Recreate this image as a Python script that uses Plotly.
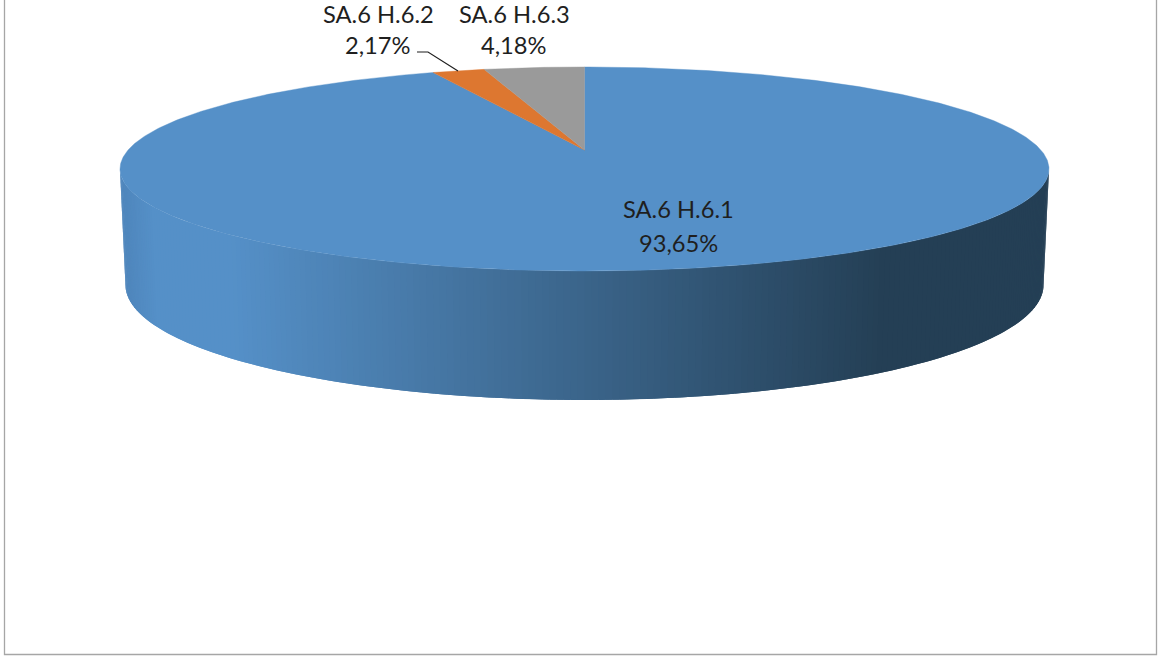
import math
import plotly.graph_objects as go

# Data
categories = ["SA.6 H.6.1", "SA.6 H.6.2", "SA.6 H.6.3"]
shares = [93.65, 2.17, 4.18]
slice_colors = ["#5590C8", "#DD7730", "#9A9A9A"]

# Pie geometry in page pixels (perspective projection of a disc)
PERSP = 0.186
CX = 584.5
TOP = dict(a=456.4, b=98.5, y0=150.0)
BOT = dict(a=451.0, b=111.0, y0=263.6)
WALL_EDGE = (78, 133, 187)
WALL_LIGHT = (85, 144, 200)
WALL_DARK = (36, 63, 85)
EDGE_START, EDGE_END = 122.0, 155.0
GRAD_START, GRAD_END = 230.0, 880.0
TEXT = "#1F1F1F"
FONT = "Lato, Carlito, Calibri, sans-serif"
FSIZE = 23.7


def project(theta_deg, disc):
    t = math.radians(theta_deg)
    u, v = math.sin(t), math.cos(t)
    d = 1 + PERSP * v
    return CX + disc["a"] * u / d, disc["y0"] - disc["b"] * v / d


def wall_color(x):
    if x < EDGE_END:
        f = max(0.0, (x - EDGE_START) / (EDGE_END - EDGE_START))
        c = [round(a + (b - a) * f) for a, b in zip(WALL_EDGE, WALL_LIGHT)]
    else:
        f = min(1.0, max(0.0, (x - GRAD_START) / (GRAD_END - GRAD_START)))
        c = [round(a + (b - a) * f) for a, b in zip(WALL_LIGHT, WALL_DARK)]
    return f"rgb({c[0]},{c[1]},{c[2]})"


fig = go.Figure()

# Side wall: overlapping gradient bands painted from the right edge to the left
N = 220
lo = math.degrees(math.acos(-PERSP))
hi = 360.0 - lo
for i in range(N):
    t0 = lo + (hi - lo) * i / N
    t1 = lo + (hi - lo) * min(N, i + 2) / N
    mid = (t0 + t1) / 2
    a = project(t0, TOP)
    b = project(t1, TOP)
    c = project(t1, BOT)
    d = project(t0, BOT)
    col = wall_color((project(mid, TOP)[0] + project(mid, BOT)[0]) / 2)
    fig.add_trace(go.Scatter(
        x=[a[0], b[0], c[0], d[0], a[0]],
        y=[a[1], b[1], c[1], d[1], a[1]],
        mode="lines", fill="toself", fillcolor=col,
        line=dict(width=0),
        hoverinfo="skip", showlegend=False,
    ))

# Top slices, clockwise from twelve o'clock
total = sum(shares)
start = 0.0
centre = (CX, TOP["y0"])
for name, val, col in zip(categories, shares, slice_colors):
    span = 360.0 * val / total
    n = max(8, int(span * 2))
    pts = [project(start + span * k / n, TOP) for k in range(n + 1)]
    xs = [centre[0]] + [p[0] for p in pts] + [centre[0]]
    ys = [centre[1]] + [p[1] for p in pts] + [centre[1]]
    fig.add_trace(go.Scatter(
        x=xs, y=ys, mode="lines", fill="toself", fillcolor=col,
        line=dict(color=col, width=0.4),
        name=name, text=f"{name}: {val:.2f}%",
        hoverinfo="text", showlegend=False,
    ))
    start += span

# Labels: (x, y of name line, y of percent line)
label_pos = [(678, 209, 243), (378, 14, 45), (514, 14, 45)]
annotations = []
for name, val, (lx, ly1, ly2) in zip(categories, shares, label_pos):
    pct = f"{val:.2f}%".replace(".", ",")
    for txt, ly in ((name, ly1), (pct, ly2)):
        annotations.append(dict(
            x=lx, y=ly, xref="x", yref="y", showarrow=False,
            text=txt, align="center",
            font=dict(family=FONT, size=FSIZE, color=TEXT),
            xanchor="center", yanchor="middle",
        ))

shapes = [
    dict(type="rect", xref="x", yref="y", x0=4.5, y0=-2, x1=1156.5, y1=654.5,
         line=dict(color="#A6A6A6", width=1.3), fillcolor="rgba(0,0,0,0)", layer="below"),
    dict(type="path", xref="x", yref="y", path="M 417 52 L 428 52 L 458 71",
         line=dict(color="#1F1F1F", width=1.2), layer="above"),
]

fig.update_layout(
    width=1159, height=656, autosize=False,
    margin=dict(l=0, r=0, t=0, b=0),
    paper_bgcolor="white", plot_bgcolor="white",
    showlegend=False,
    xaxis=dict(range=[0, 1159], visible=False, fixedrange=True),
    yaxis=dict(range=[656, 0], visible=False, fixedrange=True),
    annotations=annotations, shapes=shapes,
)

fig.write_html(
    "out.html",
    config=dict(displayModeBar=False),
    post_script="document.body.style.margin='0';document.body.style.overflow='hidden';",
)
